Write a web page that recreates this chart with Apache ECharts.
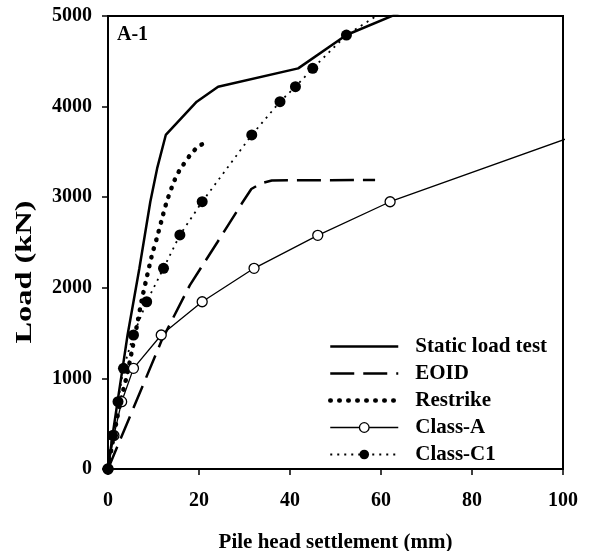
<!DOCTYPE html>
<html>
<head>
<meta charset="utf-8">
<script src="https://cdn.jsdelivr.net/npm/echarts@6/dist/echarts.min.js"></script>
<style>
  html, body { margin: 0; padding: 0; background: #fff; }
  #chart { width: 590px; height: 551px; }
</style>
</head>
<body>
<div id="chart"></div>
<script>
// Pile A-1: load (kN) against pile head settlement (mm)
const seriesNames = ['Static load test', 'EOID', 'Restrike', 'Class-A', 'Class-C1'];

const staticSettle = [0, 1.0, 2.1, 3.2, 4.3, 5.6, 6.9, 8.1, 9.3, 10.8, 12.7, 19.5, 24.2, 41.8, 52.4, 70.0];
const staticLoad   = [0, 370, 743, 1111, 1479, 1846, 2215, 2583, 2950, 3318, 3687, 4054, 4220, 4422, 4790, 5160];

const eoidSettle = [0, 11.8, 18.0, 24.0, 29.4, 31.5, 33.5, 36.0, 58.7];
const eoidLoad   = [0, 1420, 2030, 2500, 2930, 3090, 3150, 3185, 3190];

const restrikeSettle = [0, 1.0, 2.0, 3.0, 4.1, 5.2, 6.3, 7.4, 8.4, 9.7, 10.8, 11.8, 12.9, 14.4, 15.3, 16.5, 17.9, 19.7, 21.7];
const restrikeLoad   = [0, 290, 560, 800, 1020, 1290, 1570, 1860, 2090, 2370, 2560, 2750, 2950, 3160, 3260, 3355, 3455, 3555, 3610];

const classASettle = [0, 1.3, 3.0, 5.6, 11.7, 20.7, 32.1, 46.1, 62.0, 103.1];
const classALoad   = [0, 370, 743, 1111, 1479, 1846, 2215, 2579, 2950, 3687];

const classC1Settle = [0, 1.0, 2.2, 3.4, 5.6, 8.5, 12.2, 15.8, 20.7, 31.6, 37.8, 41.2, 45.0, 52.4, 64.0];
const classC1Load   = [0, 370, 743, 1111, 1479, 1846, 2215, 2583, 2950, 3687, 4054, 4220, 4422, 4790, 5160];

const pairs = (xs, ys) => xs.map((x, i) => [x, ys[i]]);

const FONT = '"Liberation Serif", "Times New Roman", serif';
const boldText = (size) => ({ fontFamily: FONT, fontWeight: 'bold', fontSize: size, color: '#000' });
const hiddenMark = { color: 'rgba(0,0,0,0)', borderWidth: 0 };

const chart = echarts.init(document.getElementById('chart'), null, { renderer: 'canvas' });

chart.setOption({
  animation: false,
  backgroundColor: '#fff',
  grid: {
    left: 108, right: 27, top: 16, bottom: 82,
    outerBoundsMode: 'none', containLabel: false,
    show: true, borderColor: '#000', borderWidth: 2, backgroundColor: 'transparent'
  },
  xAxis: {
    type: 'value', min: 0, max: 100, interval: 20,
    name: 'Pile head settlement (mm)', nameLocation: 'middle', nameGap: 63,
    nameTextStyle: boldText(21),
    axisLine: { show: true, lineStyle: { color: '#000', width: 2 } },
    axisTick: { show: true, inside: false, length: 6, lineStyle: { color: '#000', width: 1.5 } },
    axisLabel: Object.assign({ margin: 22, formatter: (v) => String(v) }, boldText(20)),
    splitLine: { show: false }
  },
  yAxis: {
    type: 'value', min: 0, max: 5000, interval: 1000,
    axisLine: { show: true, lineStyle: { color: '#000', width: 2 } },
    axisTick: { show: true, inside: false, length: 6, lineStyle: { color: '#000', width: 1.5 } },
    axisLabel: Object.assign({ margin: 16, formatter: (v) => String(v) }, boldText(20)),
    splitLine: { show: false }
  },
  legend: {
    orient: 'vertical', left: 328, top: 336, padding: 0,
    itemWidth: 68, itemHeight: 12, itemGap: 6,
    selectedMode: false,
    textStyle: Object.assign({ lineHeight: 20, padding: [0, 0, 0, 12] }, boldText(21)),
    data: [
      { name: seriesNames[0], itemStyle: hiddenMark, lineStyle: { width: 2.5 } },
      { name: seriesNames[1], itemStyle: hiddenMark, lineStyle: { width: 2.5 } },
      { name: seriesNames[2], itemStyle: hiddenMark, lineStyle: { width: 4.5 } },
      { name: seriesNames[3], lineStyle: { width: 1.3 }, itemStyle: { borderWidth: 1.3 } },
      { name: seriesNames[4], lineStyle: { width: 1.8 } }
    ]
  },
  graphic: [
    {
      type: 'text', left: 117, top: 25,
      style: { text: 'A-1', font: 'bold 20px ' + FONT, fill: '#000' }
    },
    {
      // vertical axis title, set a little wider than the tick labels
      type: 'text', x: 25, y: 272, rotation: Math.PI / 2, scaleX: 1.35,
      style: {
        text: 'Load (kN)', font: 'bold 24px ' + FONT, fill: '#000',
        align: 'center', verticalAlign: 'middle'
      }
    }
  ],
  series: [
    {
      name: seriesNames[0], type: 'line', symbol: 'none', clip: true,
      data: pairs(staticSettle, staticLoad),
      itemStyle: { color: '#000' },
      lineStyle: { color: '#000', width: 2.5 }
    },
    {
      name: seriesNames[1], type: 'line', symbol: 'none', clip: true,
      data: pairs(eoidSettle, eoidLoad),
      itemStyle: { color: '#000' },
      lineStyle: { color: '#000', width: 2.5, type: [24, 9] }
    },
    {
      name: seriesNames[2], type: 'line', symbol: 'none', clip: true, smooth: 0.2,
      data: pairs(restrikeSettle, restrikeLoad),
      itemStyle: { color: '#000' },
      lineStyle: { color: '#000', width: 4.5, type: [0.5, 8.5], cap: 'round' }
    },
    {
      name: seriesNames[3], type: 'line', symbol: 'circle', symbolSize: 10, clip: true,
      data: pairs(classASettle, classALoad),
      itemStyle: { color: '#fff', borderColor: '#000', borderWidth: 1.3 },
      lineStyle: { color: '#000', width: 1.3 }
    },
    {
      name: seriesNames[4], type: 'line', symbol: 'circle', symbolSize: 11, clip: true,
      data: pairs(classC1Settle, classC1Load),
      itemStyle: { color: '#000', borderColor: '#000', borderWidth: 0 },
      lineStyle: { color: '#000', width: 1.8, type: [2, 5] }
    }
  ]
});
</script>
</body>
</html>
